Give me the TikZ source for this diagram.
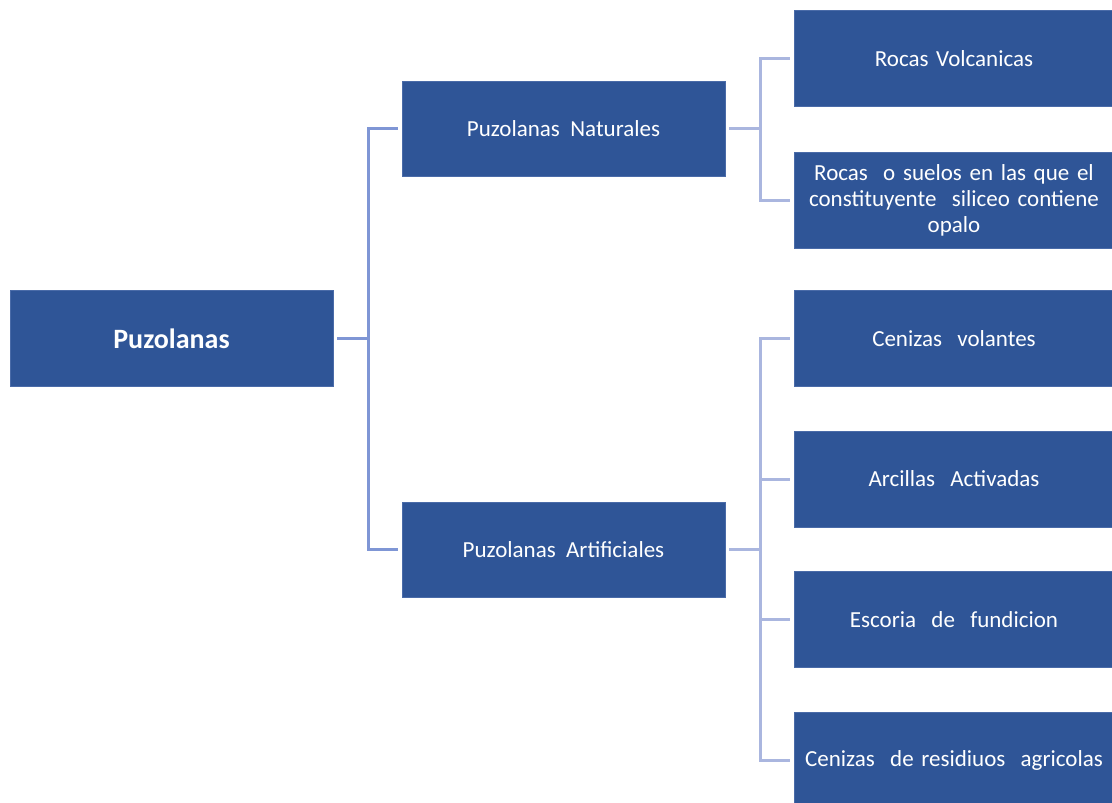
\documentclass[tikz,border=0pt]{standalone}
\usepackage{fontspec}
\setmainfont{Carlito}
\definecolor{boxblue}{HTML}{2F5597}
\definecolor{boxedge}{HTML}{4A6BA8}
\definecolor{lineA}{HTML}{7F96D5}
\definecolor{lineB}{HTML}{AAB6DF}
\begin{document}
\begin{tikzpicture}[x=1pt,y=-1pt,
  bx/.style={fill=boxblue,draw=boxedge,line width=0.8pt,text=white,align=center,inner sep=0pt,
    font=\fontsize{23}{26}\selectfont},
  lnA/.style={draw=lineA,line width=3pt},
  lnB/.style={draw=lineB,line width=3pt}]
\useasboundingbox (0,0) rectangle (1112,803);
\begin{scope}
\clip (0,0) rectangle (1112,803);
\node[bx,minimum width=323,minimum height=96,font=\fontsize{28}{32}\selectfont\bfseries] (root) at (171.5,338.5) {Puzolanas};
\node[bx,minimum width=323,minimum height=95] (nat) at (563.5,128.5) {Puzolanas\ \ Naturales};
\node[bx,minimum width=323,minimum height=95] (art) at (563.5,549.5) {Puzolanas\ \ Artificiales};
\node[bx,minimum width=320,minimum height=96,text width=314] (r1) at (954,58.5) {Rocas Volcanicas};
\node[bx,minimum width=320,minimum height=96,text width=314] (r2) at (954,200) {Rocas\ \ o suelos en las que el\\constituyente\ \ siliceo contiene\\opalo};
\node[bx,minimum width=320,minimum height=96,text width=314] (a1) at (954,338.5) {Cenizas\ \ volantes};
\node[bx,minimum width=320,minimum height=96,text width=314] (a2) at (954,479) {Arcillas\ \ Activadas};
\node[bx,minimum width=320,minimum height=96,text width=314] (a3) at (954,619.5) {Escoria\ \ de\ \ fundicion};
\node[bx,minimum width=320,minimum height=96,text width=314] (a4) at (954,760) {Cenizas\ \ de residiuos\ \ agricolas};
\end{scope}
\coordinate (jr) at (368,338.5);
\coordinate (jn) at (760,128.5);
\coordinate (ja) at (760,549.5);
\draw[lnA] ([xshift=4]root.east) -- (jr);
\draw[lnA] (jr) |- ([xshift=-4]nat.west);
\draw[lnA] (jr) |- ([xshift=-4]art.west);
\draw[lnB] ([xshift=4]nat.east) -- (jn);
\draw[lnB] (jn) |- ([xshift=-4]r1.west);
\draw[lnB] (jn) |- ([xshift=-4]r2.west);
\draw[lnB] ([xshift=4]art.east) -- (ja);
\draw[lnB] (ja) |- ([xshift=-4]a1.west);
\draw[lnB] (ja) |- ([xshift=-4]a2.west);
\draw[lnB] (ja) |- ([xshift=-4]a3.west);
\draw[lnB] (ja) |- ([xshift=-4]a4.west);
\end{tikzpicture}
\end{document}
